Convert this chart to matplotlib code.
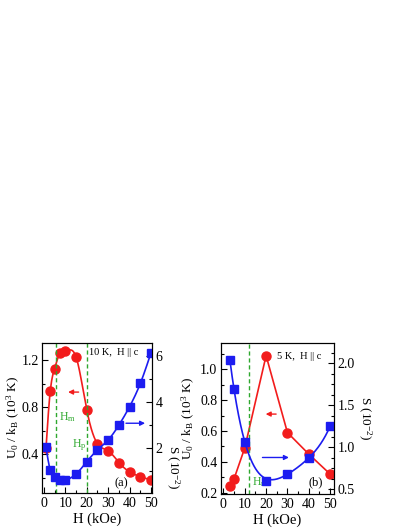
import matplotlib
matplotlib.use("Agg")
import matplotlib.pyplot as plt
import matplotlib.ticker as ticker
import numpy as np

plt.rcParams["font.family"] = ["Liberation Serif", "DejaVu Serif"]
plt.rcParams["mathtext.fontset"] = "custom"
plt.rcParams["mathtext.rm"] = "Liberation Serif"
plt.rcParams["mathtext.it"] = "Liberation Serif:italic"
plt.rcParams["xtick.direction"] = "in"
plt.rcParams["ytick.direction"] = "in"

red = "#f21c1c"
blue = "#1c1cf0"
green = "#2ea82e"

# panel (a): 10 K
h_a = [1, 3, 5, 7.5, 10, 15, 20, 25, 30, 35, 40, 45, 50]
u_a = [0.45, 0.94, 1.13, 1.26, 1.28, 1.23, 0.78, 0.49, 0.43, 0.33, 0.25, 0.21, 0.18]
s_a = [2.04, 1.06, 0.78, 0.63, 0.63, 0.89, 1.42, 1.93, 2.36, 3.0, 3.8, 4.8, 6.13]
hm_a, hp_a = 5.5, 20

# panel (b): 5 K
h_b = [3, 5, 10, 20, 30, 40, 50]
u_b = [0.24, 0.29, 0.49, 1.09, 0.59, 0.45, 0.32]
s_b = [2.04, 1.70, 1.06, 0.60, 0.68, 0.87, 1.25]
hm_b = 12


def natural_spline(x, y, n=300):
    x = np.asarray(x, float)
    y = np.asarray(y, float)
    k = len(x)
    h = np.diff(x)
    A = np.zeros((k, k))
    r = np.zeros(k)
    A[0, 0] = A[-1, -1] = 1
    for i in range(1, k - 1):
        A[i, i - 1] = h[i - 1]
        A[i, i] = 2 * (h[i - 1] + h[i])
        A[i, i + 1] = h[i]
        r[i] = 6 * ((y[i + 1] - y[i]) / h[i] - (y[i] - y[i - 1]) / h[i - 1])
    m = np.linalg.solve(A, r)
    xs = np.linspace(x[0], x[-1], n)
    j = np.clip(np.searchsorted(x, xs) - 1, 0, k - 2)
    t0 = x[j + 1] - xs
    t1 = xs - x[j]
    hj = h[j]
    ys = (m[j] * t0**3 + m[j + 1] * t1**3) / (6 * hj) \
        + (y[j] / hj - m[j] * hj / 6) * t0 + (y[j + 1] / hj - m[j + 1] * hj / 6) * t1
    return xs, ys


ulabel = r"U$_\mathregular{0}$ / k$_\mathregular{B}$ (10$^\mathregular{3}$ K)"
slabel = r"S (10$^\mathregular{-2}$)"


def style(ax, ax2, ux, sx, sy):
    for a in (ax, ax2):
        a.tick_params(which="major", length=4, width=0.8, labelsize=10, pad=2.5)
        a.tick_params(which="minor", length=2, width=0.8)
    ax.xaxis.set_major_locator(ticker.MultipleLocator(10))
    ax.xaxis.set_minor_locator(ticker.MultipleLocator(5))
    ax.set_xlabel("H (kOe)", fontsize=10.5, labelpad=2)
    ax.set_ylabel(ulabel, fontsize=9.5, va="center")
    ax.yaxis.set_label_coords(ux, 0.5)
    ax2.set_ylabel(slabel, fontsize=9.5, rotation=-90, va="center")
    ax2.yaxis.set_label_coords(sx, sy)


fig = plt.figure(figsize=(4.09, 5.29), dpi=100)

# ---- (a)
ax = fig.add_axes([0.103, 0.068, 0.269, 0.284])
ax2 = ax.twinx()
xs, ys = natural_spline(h_a, u_a)
ax.plot(xs, ys, color=red, lw=1.2)
ax.plot(h_a, u_a, "o", color=red, ms=6.5)
xs, ys = natural_spline(h_a, s_a)
ax2.plot(xs, ys, color=blue, lw=1.2)
ax2.plot(h_a, s_a, "s", color=blue, ms=6)
for v in (hm_a, hp_a):
    ax.axvline(v, color=green, ls=(0, (3, 2)), lw=1)
ax.set_xlim(-0.8, 50.5)
ax.set_ylim(0.07, 1.35)
ax2.set_ylim(0.07, 6.55)
ax.yaxis.set_major_locator(ticker.MultipleLocator(0.4))
ax.yaxis.set_minor_locator(ticker.MultipleLocator(0.2))
ax2.yaxis.set_major_locator(ticker.MultipleLocator(2))
ax2.yaxis.set_minor_locator(ticker.MultipleLocator(1))
ax.yaxis.set_major_formatter(ticker.FormatStrFormatter("%.1f"))
style(ax, ax2, -0.26, 1.185, 0.17)
ax.text(21, 1.25, "10 K,  H || c", fontsize=7.5)
ax.text(7, 0.69, r"H$_\mathregular{m}$", color=green, fontsize=8.5)
ax.text(13, 0.46, r"H$_\mathregular{p}$", color=green, fontsize=8.5)
ax.text(33, 0.13, "(a)", fontsize=9)
ax.annotate("", xy=(10, 0.93), xytext=(17.5, 0.93),
            arrowprops=dict(arrowstyle="-|>", color=red, lw=1, mutation_scale=7))
ax2.annotate("", xy=(48.5, 3.08), xytext=(37, 3.08),
             arrowprops=dict(arrowstyle="-|>", color=blue, lw=1, mutation_scale=7))

# ---- (b)
bx = fig.add_axes([0.540, 0.066, 0.277, 0.285])
bx2 = bx.twinx()
bx.plot(h_b, u_b, "-o", color=red, lw=1.2, ms=6.5)
coef = np.polyfit(h_b, s_b, 4, w=[1, 1, 1, 0.25, 1, 1, 1])
xs = np.linspace(h_b[0], h_b[-1], 300)
bx2.plot(xs, np.polyval(coef, xs), color=blue, lw=1.2)
bx2.plot(h_b, s_b, "s", color=blue, ms=6)
bx.axvline(hm_b, color=green, ls=(0, (3, 2)), lw=1)
bx.set_xlim(-1.2, 51.9)
bx.set_ylim(0.19, 1.17)
bx2.set_ylim(0.44, 2.24)
bx.yaxis.set_major_locator(ticker.MultipleLocator(0.2))
bx.yaxis.set_minor_locator(ticker.MultipleLocator(0.1))
bx2.yaxis.set_major_locator(ticker.MultipleLocator(0.5))
bx2.yaxis.set_minor_locator(ticker.MultipleLocator(0.125))
bx.yaxis.set_major_formatter(ticker.FormatStrFormatter("%.1f"))
bx2.yaxis.set_major_formatter(ticker.FormatStrFormatter("%.1f"))
style(bx, bx2, -0.29, 1.27, 0.5)
bx.text(25, 1.065, "5 K,  H || c", fontsize=7.5)
bx.text(13.3, 0.25, r"H$_\mathregular{m}$", color=green, fontsize=8.5)
bx.text(40, 0.25, "(b)", fontsize=9)
bx.annotate("", xy=(18.5, 0.71), xytext=(26, 0.71),
            arrowprops=dict(arrowstyle="-|>", color=red, lw=1, mutation_scale=7))
bx2.annotate("", xy=(32, 0.877), xytext=(17, 0.877),
             arrowprops=dict(arrowstyle="-|>", color=blue, lw=1, mutation_scale=7))

fig.savefig("out.png", dpi=100)
